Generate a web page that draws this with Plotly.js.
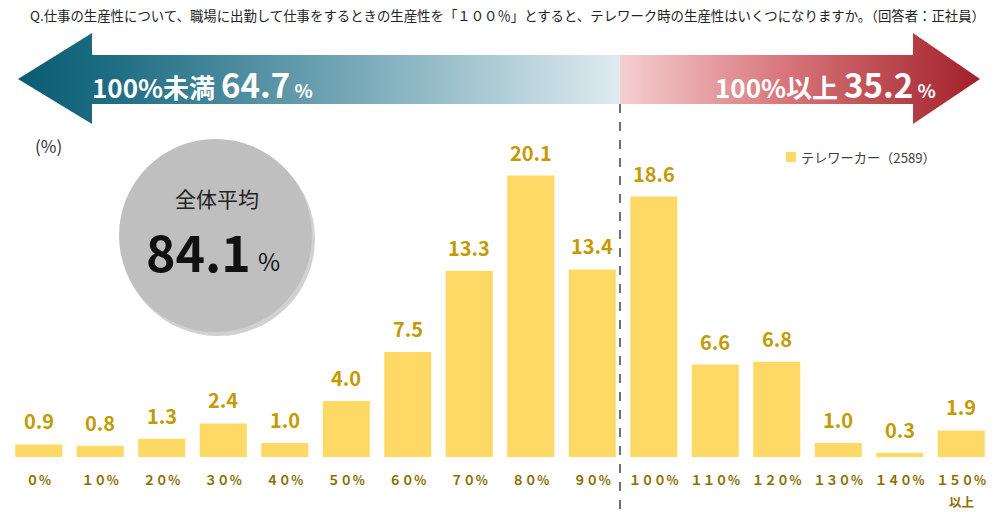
<!DOCTYPE html>
<html>
<head>
<meta charset="utf-8">
<script src="https://cdn.plot.ly/plotly-3.0.1.min.js"></script>
<style>
  body { margin: 0; background: #fff; }
  #chart { width: 1007px; height: 512px; }
</style>
</head>
<body>
<div id="chart"></div>
<script>
// data
var categories = ['０％', '１０％', '２０％', '３０％', '４０％', '５０％', '６０％', '７０％',
                  '８０％', '９０％', '１００％', '１１０％', '１２０％', '１３０％', '１４０％', '１５０％'];
var values = [0.9, 0.8, 1.3, 2.4, 1.0, 4.0, 7.5, 13.3, 20.1, 13.4, 18.6, 6.6, 6.8, 1.0, 0.3, 1.9];
var seriesName = 'テレワーカー（2589）';
var under100 = '64.7';
var over100 = '35.2';
var average = '84.1';

var W = 1007, H = 512;
var font = '"Noto Sans CJK JP", "Noto Sans", sans-serif';

// helpers: pixel -> paper (margins are zero, so paper == whole figure)
function px(x) { return x / W; }
function py(y) { return 1 - y / H; }

var bars = {
    type: 'bar',
    x: categories,
    y: values,
    name: seriesName,
    marker: { color: '#ffd966' },
    hoverinfo: 'x+y',
    showlegend: false
};

// arrows drawn on a helper subplot that spans the figure in pixel units
var leftArrow = {
    x: [18, 92, 92, 620, 620, 92, 92, 18],
    y: [79, 33, 55, 55, 104, 104, 124, 79],
    xaxis: 'x2', yaxis: 'y2',
    mode: 'lines', line: { width: 0 },
    fill: 'toself',
    fillgradient: {
        type: 'horizontal', start: 18, stop: 620,
        colorscale: [[0, '#0a5c73'], [0.15, '#1d6c82'], [0.55, '#75a7b6'], [1, '#dfebf0']]
    },
    hoverinfo: 'skip', showlegend: false
};
var rightArrow = {
    x: [620, 913, 913, 980, 913, 913, 620, 620],
    y: [55, 55, 33, 79, 124, 104, 104, 55],
    xaxis: 'x2', yaxis: 'y2',
    mode: 'lines', line: { width: 0 },
    fill: 'toself',
    fillgradient: {
        type: 'horizontal', start: 620, stop: 980,
        colorscale: [[0, '#f5cfd1'], [0.45, '#d8777c'], [1, '#a2202a']]
    },
    hoverinfo: 'skip', showlegend: false
};

var annotations = [];
values.forEach(function (v, i) {
    annotations.push({
        x: categories[i], y: v, xref: 'x', yref: 'y',
        text: v.toFixed(1), showarrow: false,
        yanchor: 'bottom', yshift: 7,
        font: { family: font, size: 20, weight: 'bold', color: '#c49a00' }
    });
});

annotations.push(
    {
        xref: 'paper', yref: 'paper', x: px(28), y: py(15),
        xanchor: 'left', yanchor: 'middle', showarrow: false,
        text: 'Q.仕事の生産性について、職場に出勤して仕事をするときの生産性を「１００％」とすると、テレワーク時の生産性はいくつになりますか。（回答者：正社員）',
        font: { family: font, size: 13.4, color: '#222' }
    },
    {
        xref: 'paper', yref: 'paper', x: px(90), y: py(84),
        xanchor: 'left', yanchor: 'middle', showarrow: false,
        text: '100%未満 <span style="font-size:33px">' + under100 + '</span><span style="font-size:19px"> %</span>',
        font: { family: font, size: 26, weight: 'bold', color: '#ffffff' }
    },
    {
        xref: 'paper', yref: 'paper', x: px(713), y: py(84),
        xanchor: 'left', yanchor: 'middle', showarrow: false,
        text: '100%以上 <span style="font-size:33px">' + over100 + '</span><span style="font-size:19px"> %</span>',
        font: { family: font, size: 26, weight: 'bold', color: '#ffffff' }
    },
    {
        xref: 'paper', yref: 'paper', x: px(48), y: py(145),
        xanchor: 'center', yanchor: 'middle', showarrow: false,
        text: '(%)',
        font: { family: font, size: 17, color: '#333' }
    },
    {
        xref: 'paper', yref: 'paper', x: px(799), y: py(157),
        xanchor: 'left', yanchor: 'middle', showarrow: false,
        text: seriesName,
        font: { family: font, size: 13.2, color: '#404040' }
    },
    {
        xref: 'paper', yref: 'paper', x: px(217), y: py(198),
        xanchor: 'center', yanchor: 'middle', showarrow: false,
        text: '全体平均',
        font: { family: font, size: 21, color: '#222' }
    },
    {
        xref: 'paper', yref: 'paper', x: px(253), y: py(250),
        xanchor: 'right', yanchor: 'middle', showarrow: false,
        text: average,
        font: { family: font, size: 50, weight: 'bold', color: '#111' }
    },
    {
        xref: 'paper', yref: 'paper', x: px(256), y: py(260),
        xanchor: 'left', yanchor: 'middle', showarrow: false,
        text: '%',
        font: { family: font, size: 24, color: '#111' }
    },
    {
        xref: 'paper', yref: 'paper', x: px(961), y: py(501),
        xanchor: 'center', yanchor: 'middle', showarrow: false,
        text: '以上',
        font: { family: font, size: 12.5, weight: 'bold', color: '#8a6e00' }
    }
);

var shapes = [
    // circle shadow + circle
    { type: 'circle', xref: 'paper', yref: 'paper', layer: 'below',
      x0: px(121), x1: px(315), y0: py(142), y1: py(336),
      fillcolor: 'rgba(0,0,0,0.18)', line: { width: 0 } },
    { type: 'circle', xref: 'paper', yref: 'paper', layer: 'below',
      x0: px(119), x1: px(312), y0: py(139), y1: py(332),
      fillcolor: '#bfbfbf', line: { width: 0 } },
    // divider between <100% and >=100%
    { type: 'line', xref: 'paper', yref: 'paper',
      x0: px(620), x1: px(620), y0: py(104), y1: py(512),
      line: { color: '#404040', width: 1.5, dash: 'dash' } },
    // legend swatch
    { type: 'rect', xref: 'paper', yref: 'paper',
      x0: px(786), x1: px(796), y0: py(152), y1: py(162),
      fillcolor: '#ffd966', line: { width: 0 } }
];

var layout = {
    width: W,
    height: H,
    margin: { l: 0, r: 0, t: 0, b: 0 },
    paper_bgcolor: '#ffffff',
    plot_bgcolor: 'rgba(0,0,0,0)',
    bargap: 0.235,
    showlegend: false,
    xaxis: {
        domain: [px(8), px(992)],
        type: 'category',
        range: [-0.5, 15.5],
        showgrid: false, zeroline: false, showline: false, ticks: '',
        ticklabelstandoff: 14,
        tickfont: { family: font, size: 12.5, weight: 'bold', color: '#8a6e00' },
        fixedrange: true
    },
    yaxis: {
        domain: [py(457), py(135)],
        range: [0, 23],
        visible: false,
        fixedrange: true
    },
    xaxis2: { domain: [0, 1], range: [0, W], anchor: 'y2', visible: false, fixedrange: true },
    yaxis2: { domain: [0, 1], range: [H, 0], anchor: 'x2', visible: false, fixedrange: true },
    shapes: shapes,
    annotations: annotations
};

Plotly.newPlot('chart', [bars, leftArrow, rightArrow], layout, { displayModeBar: false });
</script>
</body>
</html>
